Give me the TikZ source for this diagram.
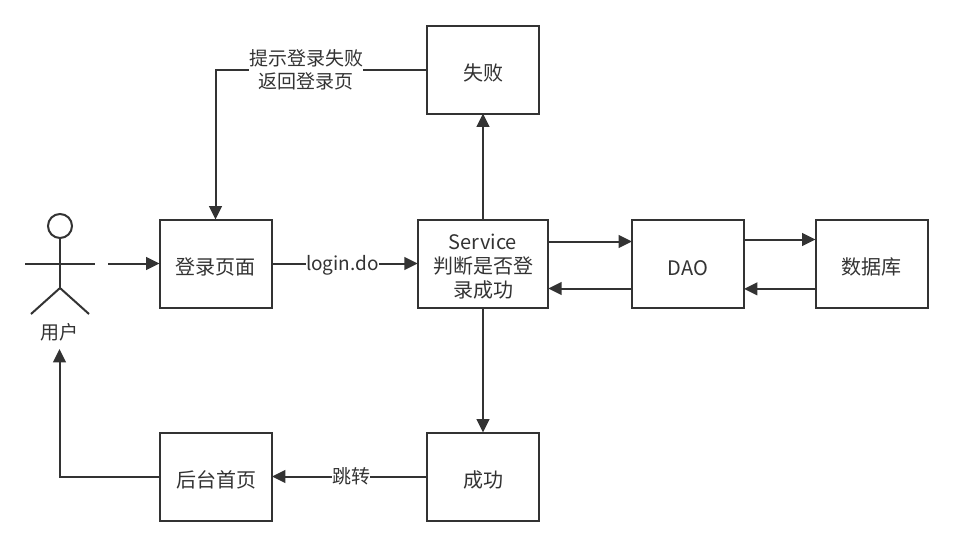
\documentclass[tikz,border=0pt]{standalone}
\usepackage{fontspec}
\setmainfont{Noto Sans CJK SC}
\usetikzlibrary{arrows.meta}
\definecolor{ink}{HTML}{333333}
\tikzset{box/.style={
    draw=ink, line width=1.5pt, fill=white, text=ink,
    minimum width=84pt, minimum height=66pt,
    inner sep=0pt, outer sep=0pt, align=center,
    font=\fontsize{15pt}{18.3pt}\selectfont
  },
  lift/.style={execute at begin node={\rule{0pt}{17.5pt}}},
  flow/.style={draw=ink, line width=1.5pt, -{Triangle[length=10pt,width=9.5pt]}},
  limb/.style={draw=ink, line width=1.5pt},
  tag/.style={
    fill=white, text=ink, inner sep=0pt, align=center,
    font=\fontsize{14.25pt}{17pt}\selectfont
  }
}
\begin{document}
\begin{tikzpicture}[x=0.75pt,y=-0.75pt]
      \useasboundingbox (0,0) rectangle (953,547);
      % boxes
      \node[box,lift] (login) at (215.5,263.5) {登录页面};
      \node[box,minimum width=98pt] (service) at (483,263.5) {\\[-2pt]Service\\判断是否登\\录成功};
      \node[box,lift] (dao) at (688,263.5) {DAO};
      \node[box,lift] (db) at (871.5,263.5) {数据库};
      \node[box,lift] (fail) at (483,69.5) {失败};
      \node[box,lift] (ok) at (483,476.5) {成功};
      \node[box,lift] (home) at (216,476.5) {后台首页};
      % user
      \node[draw=ink,line width=1.5pt,circle,minimum size=18pt,inner sep=0pt] (head) at (60,226) {};
      \coordinate (hip) at (60,288);
      \draw[limb] (head.south) -- (hip);
      \draw[limb] (25,263.5) -- (95,263.5);
      \draw[limb] (31,314) -- (hip) -- (89,314);
      \node[tag] (user) at (59.5,332) {用户};
      \coordinate (start) at (108,263.5);
      % connectors
      \draw[flow] (start) -- (login.west);
      \draw[flow] (login.east) -- node[tag,pos=0.485,yshift=-1.5pt] (dolabel) {login.do} (service.west);
      \draw[flow] (service.north) -- (fail.south);
      \draw[flow] (service.south) -- (ok.north);
      \draw[flow] (fail.west) -| node[tag,pos=0.285] (backlabel) {提示登录失败\\返回登录页} (login.north);
      \draw[flow] (ok.west) -- node[tag,pos=0.49] (jumplabel) {跳转} (home.east);
      \draw[flow] (home.west) -| ([yshift=-6pt]user.south);
      \draw[flow] ([yshift=16.5pt]service.east) -- ([yshift=16.5pt]dao.west);
      \draw[flow] ([yshift=-18.75pt]dao.west) -- ([yshift=-18.75pt]service.east);
      \draw[flow] ([yshift=18pt]dao.east) -- ([yshift=18pt]db.west);
      \draw[flow] ([yshift=-19pt]db.west) -- ([yshift=-19pt]dao.east);
    \end{tikzpicture}
\end{document}
